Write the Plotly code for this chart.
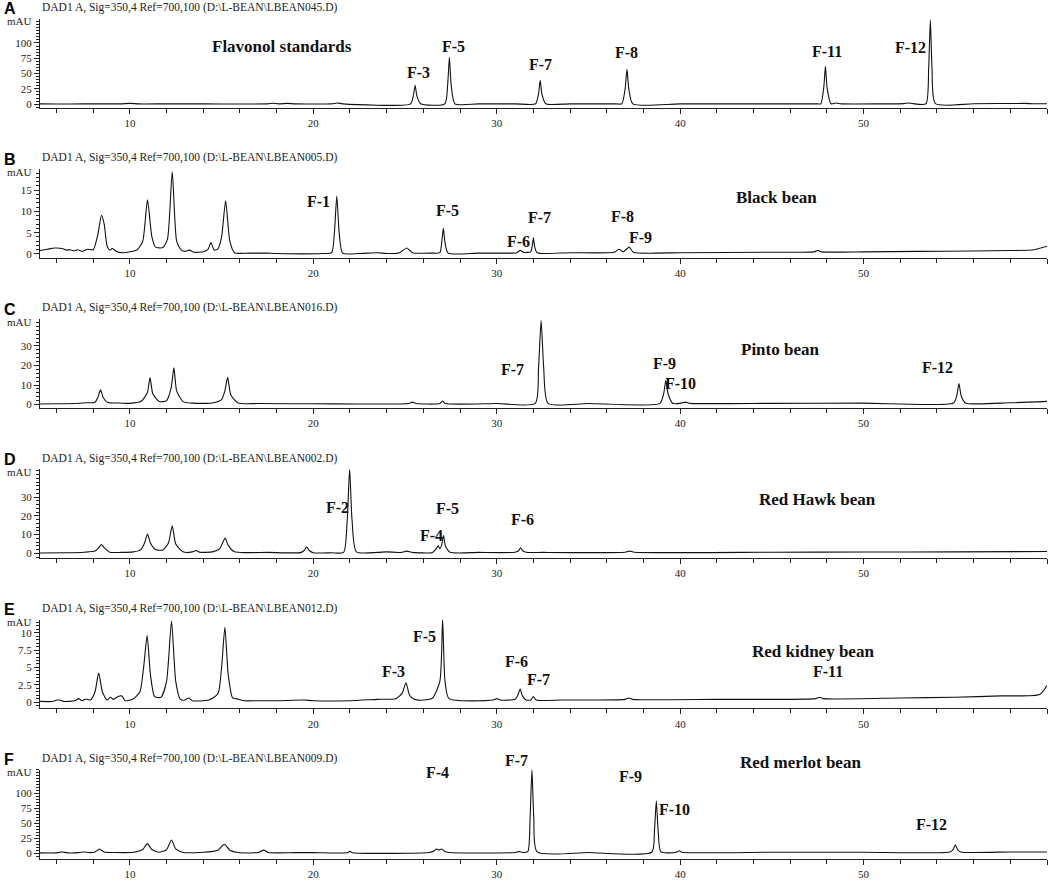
import plotly.graph_objects as go

W, H = 1050, 880
PERIOD = 151.4

# ---------------- data ----------------
panel_letters = ["A", "B", "C", "D", "E", "F"]
data_files = ["LBEAN045.D", "LBEAN005.D", "LBEAN016.D", "LBEAN002.D", "LBEAN012.D", "LBEAN009.D"]
sample_names = ["Flavonol standards", "Black bean", "Pinto bean", "Red Hawk bean", "Red kidney bean", "Red merlot bean"]

x_tickvals = [10, 20, 30, 40, 50, 60]
x_ticktext = ["10", "20", "30", "40", "50", "min"]

y_ranges = [[-5.7, 139.4], [-0.91, 19.95], [-1.8, 43.7], [-2.6, 44.7], [-0.91, 11.9], [-9.2, 140.0]]
y_tickvals = [[0, 25, 50, 75, 100], [0, 5, 10, 15], [0, 10, 20, 30], [0, 10, 20, 30],
              [0, 2.5, 5, 7.5, 10], [0, 25, 50, 75, 100]]
y_ticktext = [["0", "25", "50", "75", "100"], ["0", "5", "10", "15"], ["0", "10", "20", "30"],
              ["0", "10", "20", "30"], ["0", "2.5", "5", "7.5", "10"], ["0", "25", "50", "75", "100"]]
y_minor_step = [5, 1, 2, 2, 0.5, 5]

# chromatogram traces: (retention time [min], absorbance [mAU])
trace_a = [(5.1, 0.5), (6.0, 0.3), (7.5, 0.4), (9.5, 0.5), (10.0, 1.2), (10.5, 0.4), (12.0, 0.5), (14.0, 0.4),
           (16.0, 0.3), (17.5, 0.5), (17.8, 1.5), (18.1, 0.5), (18.6, 1.2), (19.0, 0.4), (21.0, 0.5), (21.3, 1.8),
           (21.6, 0.5), (25.3, 0.5), (25.45, 13), (25.55, 31), (25.65, 13), (25.85, 0.5), (27.17, 0.5),
           (27.33, 34), (27.42, 76.5), (27.51, 34), (27.72, 0.5), (29.0, 0.4), (31.0, 0.5), (32.12, 0.6),
           (32.28, 17), (32.37, 39), (32.46, 17), (32.67, 0.6), (34.0, 0.5), (36.5, 0.5), (36.82, 0.5),
           (37.0, 25), (37.1, 57), (37.2, 25), (37.42, 0.5), (40.0, 0.4), (44.0, 0.5), (47.5, 0.5),
           (47.67, 0.5), (47.83, 27), (47.92, 62), (48.01, 27), (48.22, 0.6), (48.5, 1.8), (48.8, 0.5),
           (51.0, 0.5), (52.2, 0.8), (52.45, 2.0), (52.7, 0.8), (53.4, 0.6), (53.55, 60), (53.64, 138),
           (53.73, 60), (53.92, 0.8), (56.0, 0.6), (58.8, 1.2), (59.2, 0.6), (60.0, 0.7)]

trace_b = [(5.1, 0.8), (5.5, 1.1), (5.9, 1.4), (6.3, 1.3), (6.55, 0.9), (6.75, 1.0), (6.95, 0.7), (7.15, 1.0),
           (7.4, 0.6), (7.7, 1.1), (8.0, 1.0), (8.25, 4.5), (8.45, 9.1), (8.6, 7.0), (8.75, 2.0), (8.9, 0.9),
           (9.05, 1.3), (9.3, 0.5), (9.6, 0.3), (10.0, 0.5), (10.4, 1.0), (10.7, 3.0), (10.96, 12.7), (11.2, 4.0),
           (11.4, 1.6), (11.8, 1.5), (12.05, 3.5), (12.31, 19.3), (12.55, 3.0), (12.8, 0.9), (13.0, 0.6),
           (13.25, 0.9), (13.5, 0.4), (14.0, 0.5), (14.25, 1.0), (14.42, 2.7), (14.6, 0.9), (14.8, 1.2),
           (15.0, 4.0), (15.22, 12.5), (15.45, 3.0), (15.7, 0.3), (16.5, 0.2), (17.5, 0.2), (18.0, 0.1),
           (20.5, 0.1), (21.0, 0.3), (21.15, 5.0), (21.28, 13.6), (21.41, 5.0), (21.6, 0.2), (22.5, 0.1),
           (23.5, 0.3), (24.0, 0.1), (24.7, 0.3), (25.1, 1.4), (25.4, 0.3), (26.5, 0.2), (26.9, 0.3),
           (27.0, 2.7), (27.09, 6.0), (27.18, 2.7), (27.35, 0.2), (29.0, 0.2), (30.5, 0.2), (31.1, 0.3),
           (31.28, 0.85), (31.45, 0.4), (31.85, 0.5), (31.93, 1.7), (32.0, 3.8), (32.07, 1.7), (32.2, 0.3),
           (34.0, 0.3), (36.4, 0.4), (36.67, 1.1), (36.9, 0.5), (37.22, 1.6), (37.45, 0.4), (40.0, 0.3),
           (45.0, 0.4), (47.3, 0.5), (47.5, 0.8), (47.7, 0.5), (50.0, 0.5), (53.0, 0.6), (56.0, 0.7),
           (58.0, 0.8), (59.3, 1.0), (60.0, 1.8)]

trace_c = [(5.1, 0.3), (6.0, 0.4), (7.0, 0.5), (7.6, 0.9), (8.1, 1.2), (8.25, 3.5), (8.4, 7.5), (8.55, 3.5),
           (8.8, 1.0), (9.3, 0.8), (10.0, 0.6), (10.6, 1.5), (10.95, 6.0), (11.1, 13.8), (11.25, 5.5),
           (11.6, 1.5), (12.0, 2.0), (12.25, 8.5), (12.4, 18.8), (12.55, 7.0), (12.9, 1.5), (13.4, 0.7),
           (14.5, 0.8), (15.0, 2.5), (15.18, 7.0), (15.33, 14.0), (15.5, 5.0), (15.9, 0.8), (17.0, 0.5),
           (20.0, 0.4), (25.2, 0.5), (25.4, 1.2), (25.6, 0.5), (26.9, 0.5), (27.05, 1.8), (27.2, 0.5),
           (30.0, 0.5), (32.1, 0.6), (32.28, 19), (32.42, 43), (32.56, 19), (32.8, 0.6), (35.0, 0.5),
           (38.9, 0.6), (39.1, 5.5), (39.22, 12.3), (39.34, 5.5), (39.6, 0.6), (40.0, 0.6), (40.3, 1.2),
           (40.55, 0.6), (45.0, 0.6), (50.0, 0.7), (54.9, 0.8), (55.08, 4.5), (55.2, 10.8), (55.32, 4.5),
           (55.55, 0.8), (58.0, 0.9), (60.0, 1.6)]

trace_d = [(5.1, 0.2), (6.5, 0.3), (7.5, 0.6), (8.1, 1.2), (8.3, 3.0), (8.45, 4.7), (8.6, 3.0), (8.9, 0.6),
           (9.5, 0.5), (10.2, 0.8), (10.6, 2.0), (10.8, 5.5), (10.96, 10.3), (11.12, 5.5), (11.4, 2.0),
           (11.8, 1.8), (12.1, 5.5), (12.31, 14.7), (12.5, 5.0), (12.9, 0.8), (13.4, 0.8), (13.6, 1.5),
           (13.8, 0.6), (14.5, 0.8), (14.9, 2.5), (15.05, 5.5), (15.2, 8.2), (15.35, 4.5), (15.7, 0.8),
           (16.5, 0.4), (17.5, 0.5), (19.3, 0.4), (19.5, 1.5), (19.64, 3.3), (19.78, 1.5), (20.0, 0.3),
           (21.0, 0.3), (21.65, 0.5), (21.85, 18), (21.98, 45), (22.11, 18), (22.35, 0.8), (23.5, 0.5),
           (24.0, 0.8), (24.8, 0.5), (25.1, 1.2), (25.4, 0.5), (26.5, 0.5), (26.7, 2.5), (26.8, 4.0),
           (26.9, 2.5), (27.0, 4.5), (27.1, 9.5), (27.2, 4.0), (27.45, 0.6), (29.0, 0.5), (31.0, 0.6),
           (31.2, 1.5), (31.3, 3.0), (31.4, 1.5), (31.6, 0.6), (32.5, 0.5), (37.0, 0.6), (37.25, 1.2),
           (37.5, 0.6), (45.0, 0.6), (50.0, 0.7), (55.0, 0.8), (60.0, 1.0)]

trace_e = [(5.1, 0.1), (5.8, 0.1), (6.1, 0.35), (6.4, 0.1), (7.0, 0.2), (7.2, 0.5), (7.4, 0.2), (7.6, 0.45),
           (7.85, 0.3), (8.1, 1.5), (8.3, 4.2), (8.5, 1.5), (8.75, 0.3), (8.95, 0.7), (9.1, 0.4), (9.35, 0.8),
           (9.55, 0.9), (9.75, 0.2), (10.2, 0.5), (10.55, 1.5), (10.75, 5.0), (10.94, 9.6), (11.12, 4.0),
           (11.35, 0.8), (11.7, 0.7), (12.0, 3.0), (12.27, 11.7), (12.5, 3.0), (12.75, 0.4), (13.0, 0.3),
           (13.2, 0.6), (13.4, 0.2), (14.3, 0.3), (14.8, 1.2), (15.0, 5.0), (15.18, 10.8), (15.36, 4.0),
           (15.6, 0.6), (15.8, 0.5), (16.2, 0.2), (17.0, 0.2), (18.0, 0.2), (19.5, 0.3), (20.0, 0.2),
           (22.0, 0.2), (23.5, 0.4), (24.5, 0.5), (24.85, 1.3), (25.05, 2.8), (25.25, 1.0), (25.5, 0.4),
           (26.0, 0.3), (26.5, 0.6), (26.9, 3.0), (27.05, 11.9), (27.18, 3.0), (27.4, 0.5), (29.8, 0.3),
           (30.0, 0.5), (30.2, 0.3), (31.0, 0.4), (31.15, 1.0), (31.28, 1.9), (31.4, 0.9), (31.6, 0.3),
           (31.85, 0.3), (32.0, 0.8), (32.15, 0.3), (33.5, 0.3), (37.0, 0.4), (37.2, 0.6), (37.4, 0.4),
           (42.0, 0.4), (47.4, 0.5), (47.6, 0.7), (47.8, 0.5), (52.0, 0.6), (55.0, 0.7), (57.5, 0.9),
           (59.6, 1.1), (60.0, 2.4)]

trace_f = [(5.1, 0.5), (6.0, 0.5), (6.3, 2.0), (6.6, 0.5), (7.2, 0.8), (7.5, 2.0), (7.8, 0.8), (8.1, 2.0),
           (8.35, 7.0), (8.6, 2.0), (9.2, 1.0), (10.2, 1.5), (10.7, 6.0), (10.95, 16), (11.2, 6.0), (11.6, 1.5),
           (12.0, 6.0), (12.27, 22), (12.5, 7.0), (12.85, 1.5), (14.0, 1.5), (14.8, 5.0), (15.15, 15),
           (15.45, 5.0), (15.9, 1.0), (17.0, 1.0), (17.3, 5.0), (17.55, 1.0), (19.0, 0.8), (20.0, 0.8),
           (21.85, 0.8), (22.0, 3.0), (22.15, 0.8), (26.3, 1.0), (26.6, 4.0), (26.72, 7.0), (26.85, 5.0),
           (27.0, 7.0), (27.15, 3.0), (27.4, 1.0), (31.0, 1.0), (31.2, 2.5), (31.45, 1.0), (31.7, 3.0),
           (31.82, 60), (31.92, 140), (32.02, 60), (32.2, 2.0), (35.0, 1.0), (38.45, 1.5), (38.6, 38),
           (38.7, 88), (38.8, 38), (38.95, 2.0), (39.8, 1.5), (39.95, 4.0), (40.1, 1.5), (45.0, 1.5),
           (50.0, 1.5), (54.7, 2.0), (54.88, 6.0), (55.0, 14), (55.12, 6.0), (55.3, 2.0), (58.0, 2.0),
           (60.0, 2.0)]

traces = [trace_a, trace_b, trace_c, trace_d, trace_e, trace_f]

peak_labels = [
    ["F-3", "F-5", "F-7", "F-8", "F-11", "F-12"],
    ["F-1", "F-5", "F-6", "F-7", "F-8", "F-9"],
    ["F-7", "F-9", "F-10", "F-12"],
    ["F-2", "F-4", "F-5", "F-6"],
    ["F-3", "F-5", "F-6", "F-7", "F-11"],
    ["F-4", "F-7", "F-9", "F-10", "F-12"],
]

# ---------------- layout helpers (pixel positions) ----------------
peak_label_px = [
    [(418, 73), (453, 47), (540, 65), (626, 53), (827, 52), (910, 48)],
    [(318, 203), (447, 212), (518, 243), (539, 219), (622, 218), (640, 239)],
    [(512, 372), (664, 366), (680, 387), (937, 370)],
    [(337, 512), (431, 540), (447, 513), (522, 524)],
    [(393, 677), (424, 642), (516, 667), (538, 685), (828, 677)],
    [(437, 779), (516, 767), (630, 783), (674, 816), (931, 831)],
]
sample_px = [(282, 47), (776, 199), (780, 352), (817, 504), (813, 657), (800, 769)]

def px_x(px):
    return px / W

def px_y(py):
    return 1 - py / H

SERIF = "Liberation Serif, Times New Roman, serif"
SANS = "Liberation Sans, Arial, sans-serif"

fig = go.Figure()
annotations = []
layout_axes = {}

for i in range(6):
    off = i * PERIOD
    xa = "x" if i == 0 else f"x{i+1}"
    ya = "y" if i == 0 else f"y{i+1}"
    xs = [p[0] for p in traces[i]]
    ys = [p[1] for p in traces[i]]
    fig.add_trace(go.Scatter(x=xs, y=ys, mode="lines", xaxis=xa, yaxis=ya,
                             line=dict(color="#111111", width=1.1, shape="spline", smoothing=0.6),
                             showlegend=False, hoverinfo="skip"))
    xkey = "xaxis" if i == 0 else f"xaxis{i+1}"
    ykey = "yaxis" if i == 0 else f"yaxis{i+1}"
    layout_axes[xkey] = dict(
        domain=[px_x(40), px_x(1047)], anchor=ya, range=[5.1, 60.0],
        tickmode="array", tickvals=x_tickvals, ticktext=x_ticktext,
        ticks="outside", ticklen=5, tickwidth=1, tickcolor="#222",
        showline=True, linecolor="#222", linewidth=1, showgrid=False, zeroline=False,
        tickfont=dict(family=SERIF, size=11, color="#222"),
        minor=dict(dtick=2, tick0=0, ticks="outside", ticklen=4, tickcolor="#222", showgrid=False),
        fixedrange=True,
    )
    layout_axes[ykey] = dict(
        domain=[px_y(108.5 + off), px_y(19 + off)], anchor=xa, range=y_ranges[i],
        tickmode="array", tickvals=y_tickvals[i], ticktext=y_ticktext[i],
        ticks="outside", ticklen=5, tickwidth=1, tickcolor="#222",
        showline=True, linecolor="#222", linewidth=1, showgrid=False, zeroline=False,
        tickfont=dict(family=SERIF, size=11, color="#222"),
        minor=dict(dtick=y_minor_step[i], tick0=0, ticks="outside", ticklen=3, tickcolor="#222",
                   showgrid=False),
        fixedrange=True,
    )
    # panel letter
    annotations.append(dict(text=f"<b>{panel_letters[i]}</b>", x=px_x(2), y=px_y(9 + off),
                            xref="paper", yref="paper", xanchor="left", yanchor="middle",
                            showarrow=False, font=dict(family=SANS, size=16, color="#000")))
    # header
    annotations.append(dict(text="DAD1 A, Sig=350,4 Ref=700,100 (D:\\L-BEAN\\" + data_files[i] + ")",
                            x=px_x(40), y=px_y(7.5 + off), xref="paper", yref="paper",
                            xanchor="left", yanchor="middle", showarrow=False,
                            font=dict(family=SERIF, size=11.5, color="#222")))
    # mAU
    annotations.append(dict(text="mAU", x=px_x(34), y=px_y(21.5 + off), xref="paper", yref="paper",
                            xanchor="right", yanchor="middle", showarrow=False,
                            font=dict(family=SERIF, size=11, color="#222")))
    # sample name
    sx, sy = sample_px[i]
    annotations.append(dict(text=f"<b>{sample_names[i]}</b>", x=px_x(sx), y=px_y(sy),
                            xref="paper", yref="paper", xanchor="center", yanchor="middle",
                            showarrow=False, font=dict(family=SERIF, size=17, color="#111")))
    # peak labels
    for lab, (lx, ly) in zip(peak_labels[i], peak_label_px[i]):
        annotations.append(dict(text=f"<b>{lab}</b>", x=px_x(lx), y=px_y(ly),
                                xref="paper", yref="paper", xanchor="center", yanchor="middle",
                                showarrow=False, font=dict(family=SERIF, size=16, color="#111")))

fig.update_layout(
    width=W, height=H, margin=dict(l=0, r=0, t=0, b=0),
    paper_bgcolor="white", plot_bgcolor="white",
    annotations=annotations, **layout_axes,
)

fig.write_html("out.html", config={"displayModeBar": False},
               post_script="document.body.style.margin='0';")
